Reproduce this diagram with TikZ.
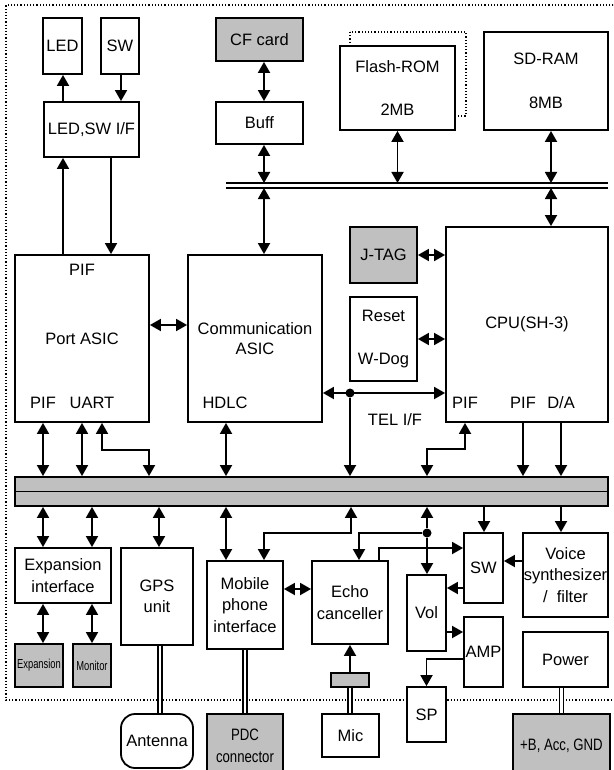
\documentclass[tikz,border=0pt]{standalone}
\usepackage{fontspec}
\setmainfont{Liberation Sans}
\usepackage{graphicx}
\usetikzlibrary{arrows.meta}
\definecolor{busgray}{HTML}{C0C0C0}
\newcommand{\narrowtxt}[2][0.8]{\scalebox{#1}[1]{#2}}

\begin{document}
\begin{tikzpicture}[x=1pt, y=-1pt,
    blk/.style={rectangle, draw, fill=#1, line width=1.8pt, inner sep=0pt,
                align=center, font=\fontsize{16.5}{21.5}\selectfont},
    blk/.default=white,
    sz/.style 2 args={minimum width=#1pt, minimum height=#2pt},
    lbl/.style={inner sep=0pt, font=\fontsize{16.5}{21.5}\selectfont},
    arr/.style={-{Triangle[length=11pt,width=12pt]}, line width=1.8pt},
    darr/.style={{Triangle[length=11pt,width=12pt]}-{Triangle[length=11pt,width=12pt]}, line width=1.8pt},
    wire/.style={double, double distance=2.6pt, line width=1.5pt},
    dot/.style={circle, fill, inner sep=0pt, minimum size=9pt}
]
\useasboundingbox (0,0) rectangle (613,770);
\clip (0,0) rectangle (613,770);

% board outline
\draw[dotted, line width=1.2pt] (620,5) -- (6,5) -- (6,700) -- (620,700);

% top row
\node[blk, sz={39}{56}] (led) at (62.5,46) {LED};
\node[blk, sz={38}{56}] (sw) at (120,46) {SW};
\node[blk, sz={95}{55}] (ledif) at (91.5,129.5) {LED,SW I/F};
\node[blk=busgray, sz={87}{43}] (cf) at (259.5,39.5) {CF card};
\node[blk, sz={87}{42}] (buff) at (259.5,123) {Buff};
\draw[dotted, line width=1.2pt] (350,32) rectangle (466,116);
\node[blk, sz={115}{84}] (flash) at (397.5,88) {Flash-ROM\\[22pt]2MB};
\node[blk, sz={124}{98}] (sdram) at (546,81) {SD-RAM\\[22pt]8MB};

% memory bus
\node[minimum width=382pt, minimum height=5pt, inner sep=0pt, outer sep=0pt] (mbus) at (417,185.5) {};
\draw[line width=1.8pt] (mbus.north west) -- (mbus.north east);
\draw[line width=1.8pt] (mbus.south west) -- (mbus.south east);

% middle row
\node[blk, sz={134}{167}] (port) at (82,338.5) {Port ASIC};
\node[blk, sz={134}{167}] (comm) at (255,338.5) {Communication\\[-1pt]ASIC};
\node[blk=busgray, sz={67}{56}] (jtag) at (383.5,255) {J-TAG};
\node[blk, sz={67}{84}] (reset) at (383.5,339) {Reset\\[22pt]W-Dog};
\node[blk, sz={162}{195}] (cpu) at (527,324.5) {CPU(SH-3)};

\node[lbl] (ppif) at (82,270) {PIF};
\node[lbl] (ppif2) at (43,403) {PIF};
\node[lbl] (uart) at (92,403) {UART};
\node[lbl] (hdlc) at (225,403) {HDLC};
\node[lbl] (telif) at (395,420) {TEL I/F};
\node[lbl] (cpif) at (465,403) {PIF};
\node[lbl] (cpif2) at (523,403) {PIF};
\node[lbl] (da) at (561,403) {D/A};

% main bus
\node[blk=busgray, sz={593}{29}] (bus) at (311.5,491.5) {};
\draw[line width=1.8pt] (bus.west) -- (bus.east);

% bottom row
\node[blk, sz={96}{55}] (expif) at (63,575.5) {Expansion\\interface};
\node[blk, sz={72}{97}] (gps) at (157,596.5) {GPS\\unit};
\node[blk, sz={76}{88}] (mobile) at (245,605) {Mobile\\phone\\interface};
\node[blk, sz={76}{83}] (echo) at (350,602.5) {Echo\\canceller};
\node[blk, sz={39}{76}] (vol) at (426.5,613) {Vol};
\node[blk, sz={39}{70}] (swb) at (483.5,568) {SW};
\node[blk, sz={39}{70}] (amp) at (483.5,652) {AMP};
\node[blk, sz={85}{84}] (voice) at (565.5,575) {Voice\\synthesizer\\/\ \ filter};
\node[blk, sz={85}{55}] (power) at (565.5,659.5) {Power};
\node[blk=busgray, sz={48}{43}, font=\fontsize{13}{15}\selectfont] (expn) at (39,665.5) {\narrowtxt[0.72]{Expansion}};
\node[blk=busgray, sz={38}{43}, font=\fontsize{13}{15}\selectfont] (monitor) at (92,665.5) {\narrowtxt[0.72]{Monitor}};
\node[blk=busgray, sz={38}{14}] (micg) at (350,680) {};
\node[blk, sz={39}{55}] (sp) at (426.5,714.5) {SP};

% outside the board
\node[blk, sz={72}{54}, rounded corners=14pt] (antenna) at (157,741) {Antenna};
\node[blk=busgray, sz={76}{64}] (pdc) at (245,746) {\narrowtxt{PDC}\\\narrowtxt{connector}};
\node[blk, sz={57}{43}] (mic) at (350.5,735.5) {Mic};
\node[blk=busgray, sz={97}{64}] (pwrconn) at (561.5,746) {\narrowtxt{+B, Acc, GND}};

\node[dot] (tel) at (350,393) {};
\node[dot] (jn) at (427,533) {};

% top connectors
\draw[arr] (63,0 |- ledif.north) -- (63,0 |- led.south);
\draw[arr] (121,0 |- sw.south) -- (121,0 |- ledif.north);
\draw[arr] (63,0 |- port.north) -- (63,0 |- ledif.south);
\draw[arr] (111,0 |- ledif.south) -- (111,0 |- port.north);
\draw[darr] (264,0 |- cf.south) -- (264,0 |- buff.north);
\draw[darr] (264,0 |- buff.south) -- (264,0 |- mbus.north);
\draw[darr] (264,0 |- mbus.south) -- (264,0 |- comm.north);
\draw[darr] (flash.south) -- (flash.south |- mbus.north);
\draw[darr] (551,0 |- sdram.south) -- (551,0 |- mbus.north);
\draw[darr] (551,0 |- mbus.south) -- (551,0 |- cpu.north);

% middle connectors
\draw[darr] (port.east |- 0,325) -- (comm.west |- 0,325);
\draw[darr] (jtag.east) -- (jtag.east -| cpu.west);
\draw[darr] (reset.east) -- (reset.east -| cpu.west);
\draw[darr] (comm.east |- tel) -- (cpu.west |- tel);
\draw[arr] (tel) -- (tel |- bus.north);
\draw[darr] (43,0 |- port.south) -- (43,0 |- bus.north);
\draw[darr] (82,0 |- port.south) -- (82,0 |- bus.north);
\draw[darr] (102,0 |- port.south) -- (102,450) -| (149,0 |- bus.north);
\draw[darr] (226,0 |- comm.south) -- (226,0 |- bus.north);
\draw[darr] (465,0 |- cpu.south) -- (465,449) -| (427,0 |- bus.north);
\draw[arr] (523,0 |- cpu.south) -- (523,0 |- bus.north);
\draw[arr] (561,0 |- cpu.south) -- (561,0 |- bus.north);

% bottom connectors
\draw[darr] (43,0 |- bus.south) -- (43,0 |- expif.north);
\draw[darr] (92,0 |- bus.south) -- (92,0 |- expif.north);
\draw[darr] (43,0 |- expif.south) -- (43,0 |- expn.north);
\draw[darr] (92,0 |- expif.south) -- (92,0 |- monitor.north);
\draw[darr] (159,0 |- bus.south) -- (159,0 |- gps.north);
\draw[darr] (226,0 |- bus.south) -- (226,0 |- mobile.north);
\draw[darr] (351,0 |- bus.south) -- (351,533) -| (264,0 |- mobile.north);
\draw[darr] (mobile.east |- 0,589) -- (echo.west |- 0,589);
\draw[arr] (jn) -- (jn |- bus.south);
\draw[arr] (jn) -| (359,0 |- echo.north);
\draw[arr] (jn) -- (jn |- vol.north);
\draw[arr] (379,0 |- echo.north) |- (swb.west |- 0,548);
\draw[arr] (484,0 |- bus.south) -- (484,0 |- swb.north);
\draw[arr] (561,0 |- bus.south) -- (561,0 |- voice.north);
\draw[arr] (voice.west |- 0,561) -- (swb.east |- 0,561);
\draw[arr] (swb.west |- 0,588) -- (vol.east |- 0,588);
\draw[arr] (vol.east |- 0,632) -- (amp.west |- 0,632);
\draw[arr] (amp.west |- 0,659) -| (sp.north);
\draw[arr] (micg.north) -- (micg.north |- echo.south);

% cables
\draw[wire] (160,0 |- gps.south) -- (160,0 |- antenna.north);
\draw[wire] (mobile.south) -- (mobile.south |- pdc.north);
\draw[wire] (micg.south) -- (micg.south |- mic.north);
\draw[wire] (pwrconn.north |- power.south) -- (pwrconn.north);

\end{tikzpicture}
\end{document}
